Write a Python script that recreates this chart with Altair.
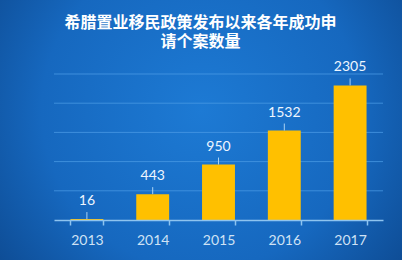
import altair as alt
import pandas as pd

# Data
years = ["2013", "2014", "2015", "2016", "2017"]
cases = [16, 443, 950, 1532, 2305]
grid_values = [500, 1000, 1500, 2000, 2500]
title_lines = ["希腊置业移民政策发布以来各年成功申", "请个案数量"]

W, H = 329, 146
PAD_L, PAD_T, PAD_R, PAD_B = 54, 74, 19, 40

df = pd.DataFrame({"year": years, "cases": cases})
grid_df = pd.DataFrame({"cases": grid_values})

LABEL_FONT = "Lato"
AXIS_LABEL = "#cfe2f5"

y_scale = alt.Scale(domain=[0, 2500], nice=False)
x_scale = alt.Scale(paddingInner=0.5, paddingOuter=0.25)

# Full-canvas blue radial backdrop
backdrop = alt.Chart(pd.DataFrame({"k": [0]})).mark_rect(
    color=alt.Gradient(
        gradient="radial",
        x1=0.5, y1=0.45, r1=0.0,
        x2=0.5, y2=0.45, r2=0.72,
        stops=[
            alt.GradientStop(color="#1d7ad4", offset=0),
            alt.GradientStop(color="#1668bf", offset=0.55),
            alt.GradientStop(color="#0b4285", offset=1),
        ],
    )
).encode(
    x=alt.value(-PAD_L), x2=alt.value(W + PAD_R),
    y=alt.value(-PAD_T), y2=alt.value(H + PAD_B),
)

grid = alt.Chart(grid_df).mark_rule(color="#4b9be6", strokeWidth=1, opacity=0.75).encode(
    y=alt.Y("cases:Q", scale=y_scale, axis=None),
    x=alt.value(0), x2=alt.value(W),
)

bars = alt.Chart(df).mark_bar(color="#ffc000").encode(
    x=alt.X("year:N", scale=x_scale, sort=years,
            axis=alt.Axis(title=None, labelAngle=0, tickBand="extent",
                          domainColor="#8ec4f0", domainWidth=1.5,
                          tickColor="#8ec4f0", tickWidth=1.5, tickSize=5,
                          labelPadding=8, labelFont=LABEL_FONT, labelFontSize=14,
                          labelColor=AXIS_LABEL, zindex=1)),
    y=alt.Y("cases:Q", scale=y_scale,
            axis=alt.Axis(title=None, values=[0, 500, 1000, 1500, 2000, 2500],
                          grid=False, domain=False, ticks=False, labelPadding=9,
                          labelFont=LABEL_FONT, labelFontSize=14,
                          labelColor=AXIS_LABEL, zindex=1)),
)

leaders = alt.Chart(df).mark_rule(color="#a9d2f3", strokeWidth=1, y2Offset=-7).encode(
    x=alt.X("year:N", scale=x_scale, sort=years),
    y=alt.Y("cases:Q", scale=y_scale, axis=None),
    y2="cases:Q",
)

labels = alt.Chart(df).mark_text(
    font=LABEL_FONT, fontSize=14, color="#eef6ff", baseline="middle", dy=-18
).encode(
    x=alt.X("year:N", scale=x_scale, sort=years),
    y=alt.Y("cases:Q", scale=y_scale, axis=None),
    text="cases:Q",
)


def title_line(text, baseline_y):
    return alt.Chart(pd.DataFrame({"k": [0]})).mark_text(
        text=text, font="Noto Sans CJK SC", fontSize=16, fontWeight="bold",
        color="white", align="center", baseline="alphabetic",
    ).encode(x=alt.value(W / 2 - 18), y=alt.value(baseline_y))


title1 = title_line(title_lines[0], -46)
title2 = title_line(title_lines[1], -27)

chart = alt.layer(backdrop, grid, bars, leaders, labels, title1, title2).properties(
    width=W, height=H,
    autosize=alt.AutoSizeParams(type="none"),
    padding={"left": PAD_L, "top": PAD_T, "right": PAD_R, "bottom": PAD_B},
    background="#0f55a6",
).configure_view(stroke=None)

chart.save("out.html", embed_options={"renderer": "svg", "actions": False})
